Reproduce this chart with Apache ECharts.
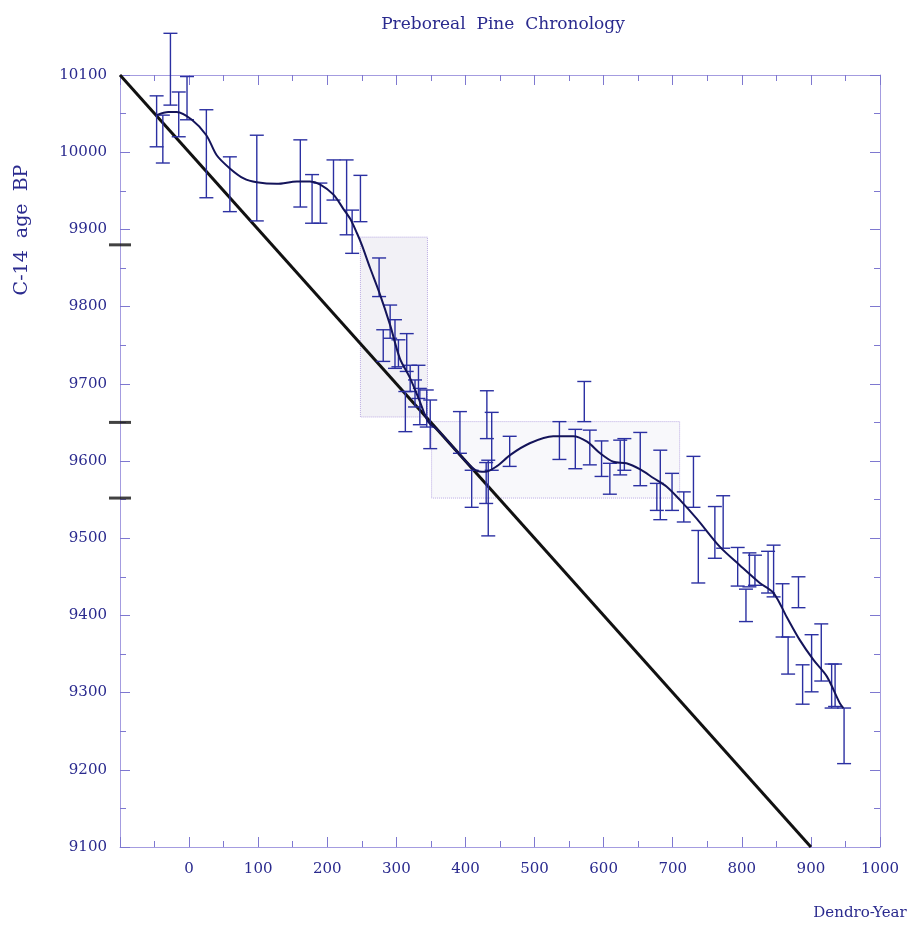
<!DOCTYPE html>
<html>
<head>
<meta charset="utf-8">
<title>Preboreal Pine Chronology</title>
<script src="https://cdn.jsdelivr.net/npm/echarts@6/dist/echarts.min.js"></script>
<style>
html, body { margin: 0; padding: 0; background: #fff; }
#main { width: 910px; height: 926px; }
</style>
</head>
<body>
<div id="main"></div>
<script>
// measured samples: dendro year, lower and upper end of the C-14 error bar
var barYears = [-47, -38, -27, -15, -3, 25, 59, 98, 161, 178, 190, 209, 228, 236, 248,
    275, 281, 291, 298, 303, 313, 315, 320, 327, 332, 334, 344, 349,
    392, 409, 430, 431, 433, 438, 464, 536, 559, 572, 580, 597, 609, 624, 630, 653,
    677, 682, 699, 716, 730, 737, 761, 773, 794, 806, 811, 819, 838, 846, 859, 867,
    882, 888, 901, 915, 930, 935, 948];
var barLow = [10007, 9986, 10061, 10020, 10042, 9941, 9923, 9911, 9929, 9908, 9908, 9938, 9893, 9869, 9910,
    9813, 9729, 9759, 9720, 9722, 9638, 9716, 9690, 9670, 9681, 9647, 9644, 9616,
    9610, 9540, 9545, 9629, 9503, 9588, 9593, 9602, 9590, 9651, 9595, 9580, 9557, 9582, 9588, 9568,
    9536, 9524, 9536, 9521, 9540, 9442, 9474, 9487, 9438, 9392, 9437, 9439, 9429, 9424, 9372, 9324,
    9410, 9285, 9301, 9315, 9280, 9282, 9208];
var barHigh = [10073, 10048, 10154, 10078, 10098, 10055, 9994, 10022, 10016, 9971, 9960, 9990, 9990, 9925, 9970,
    9863, 9770, 9802, 9783, 9757, 9690, 9765, 9724, 9705, 9724, 9694, 9692, 9679,
    9664, 9588, 9598, 9691, 9601, 9663, 9632, 9651, 9641, 9703, 9640, 9626, 9597, 9627, 9629, 9637,
    9571, 9614, 9584, 9560, 9606, 9510, 9541, 9555, 9488, 9434, 9481, 9478, 9483, 9491, 9441, 9372,
    9450, 9336, 9375, 9389, 9337, 9337, 9280];

// smoothed calibration curve
var curveYears = [-47, -30, -18, 4, 25, 40, 59, 79, 98, 127, 156, 175, 190, 209, 223, 233, 243,
    250, 262, 275, 291, 305, 320, 334, 346, 360, 380, 400, 415, 428, 445, 465, 493, 527, 556,
    576, 595, 614, 633, 653, 672, 691, 711, 735, 768, 797, 826, 846, 865, 884, 904, 923, 942, 947];
var curveAges = [10048, 10052, 10052, 10042, 10022, 9996, 9979, 9966, 9961, 9959, 9962, 9962, 9958, 9945, 9927, 9914, 9895,
    9880, 9850, 9819, 9776, 9733, 9707, 9677, 9651, 9640, 9620, 9600, 9588, 9586, 9593, 9608, 9623, 9632, 9632,
    9625, 9610, 9599, 9597, 9589, 9578, 9567, 9549, 9525, 9489, 9465, 9442, 9429, 9398, 9368, 9342, 9321, 9286, 9280];

// 1:1 reference line
var lineYears = [-100, 900];
var lineAges = [10100, 9100];

// shaded boxes (year from, year to, age top, age bottom)
var boxFrom = [248, 351];
var boxTo = [345, 710];
var boxTop = [9890, 9651];
var boxBottom = [9657, 9552];

// marks drawn on the left axis
var axisMarks = [9880, 9650, 9552];

var navy = '#2a2a8e';
var barColor = '#2b30a2';
var serif = 'DejaVu Serif';

var barData = barYears.map(function (x, i) { return [x, barLow[i], barHigh[i]]; });
var curveData = curveYears.map(function (x, i) { return [x, curveAges[i]]; });
var lineData = lineYears.map(function (x, i) { return [x, lineAges[i]]; });
var boxFills = ['#f2f1f6', '#f8f8fb'];
var boxData = boxFrom.map(function (x, i) {
    return [
        { coord: [x, boxTop[i]], itemStyle: { color: boxFills[i] } },
        { coord: [boxTo[i], boxBottom[i]] }
    ];
});
var markData = axisMarks.map(function (v) { return [-100, v]; });

function renderBar(params, api) {
    var x = api.value(0);
    var lo = api.coord([x, api.value(1)]);
    var hi = api.coord([x, api.value(2)]);
    var half = 7;
    var style = { stroke: barColor, lineWidth: 1.4 };
    return {
        type: 'group',
        children: [
            { type: 'line', shape: { x1: lo[0], y1: lo[1], x2: hi[0], y2: hi[1] }, style: style },
            { type: 'line', shape: { x1: lo[0] - half, y1: lo[1], x2: lo[0] + half, y2: lo[1] }, style: style },
            { type: 'line', shape: { x1: hi[0] - half, y1: hi[1], x2: hi[0] + half, y2: hi[1] }, style: style }
        ]
    };
}

var frameLine = { show: true, onZero: false, lineStyle: { color: '#a49ce0', width: 1 } };
var tickMajor = { show: true, inside: true, length: 10, lineStyle: { color: '#7e78d0', width: 1 } };
var tickMinor = { show: true, splitNumber: 2, length: 6, lineStyle: { color: '#7e78d0', width: 1 } };

var chart = echarts.init(document.getElementById('main'));

chart.setOption({
    backgroundColor: '#fff',
    animation: false,
    title: {
        text: 'Preboreal  Pine  Chronology',
        left: 498,
        top: 11,
        textAlign: 'center',
        textStyle: { fontFamily: serif, fontSize: 17, fontWeight: 'normal', color: navy }
    },
    grid: { left: 120, right: 30, top: 75, bottom: 79, outerBoundsMode: 'none' },
    xAxis: [{
        type: 'value', min: -100, max: 1000, interval: 100, position: 'bottom',
        axisLine: frameLine, axisTick: tickMajor, minorTick: tickMinor,
        splitLine: { show: false },
        axisLabel: {
            margin: 15, color: navy, fontFamily: serif, fontSize: 15,
            formatter: function (v) { return v < 0 ? '' : String(v); }
        }
    }, {
        type: 'value', min: -100, max: 1000, interval: 100, position: 'top',
        axisLine: frameLine, axisTick: tickMajor, minorTick: tickMinor,
        splitLine: { show: false }, axisLabel: { show: false }
    }],
    yAxis: [{
        type: 'value', min: 9100, max: 10100, interval: 100, position: 'left',
        axisLine: frameLine, axisTick: tickMajor, minorTick: tickMinor,
        splitLine: { show: false },
        axisLabel: {
            margin: 13, color: navy, fontFamily: serif, fontSize: 15,
            formatter: function (v) { return String(v); }
        }
    }, {
        type: 'value', min: 9100, max: 10100, interval: 100, position: 'right',
        axisLine: frameLine, axisTick: tickMajor, minorTick: tickMinor,
        splitLine: { show: false }, axisLabel: { show: false }
    }],
    graphic: [{
        type: 'text', x: 22, y: 230, rotation: Math.PI / 2,
        style: {
            text: 'C-14  age  BP', fill: navy, font: '19px "DejaVu Serif"',
            align: 'center', verticalAlign: 'middle'
        }
    }, {
        type: 'text', x: 860, y: 913,
        style: {
            text: 'Dendro-Year', fill: navy, font: '15px "DejaVu Serif"',
            align: 'center', verticalAlign: 'middle'
        }
    }],
    series: [{
        name: 'reference',
        type: 'line',
        data: lineData,
        symbol: 'none',
        z: 2,
        lineStyle: { color: '#111', width: 3 },
        markArea: {
            silent: true,
            itemStyle: { borderColor: '#b9a9e2', borderWidth: 1, borderType: 'dotted' },
            data: boxData
        }
    }, {
        name: 'samples',
        type: 'custom',
        renderItem: renderBar,
        data: barData,
        encode: { x: 0, y: [1, 2] },
        clip: false,
        z: 3
    }, {
        name: 'curve',
        type: 'line',
        data: curveData,
        smooth: 0.3,
        symbol: 'none',
        z: 4,
        lineStyle: { color: '#14145a', width: 2 }
    }, {
        name: 'marks',
        type: 'scatter',
        data: markData,
        symbol: 'rect',
        symbolSize: [22, 3],
        clip: false,
        z: 5,
        itemStyle: { color: '#111' }
    }]
});
</script>
</body>
</html>
